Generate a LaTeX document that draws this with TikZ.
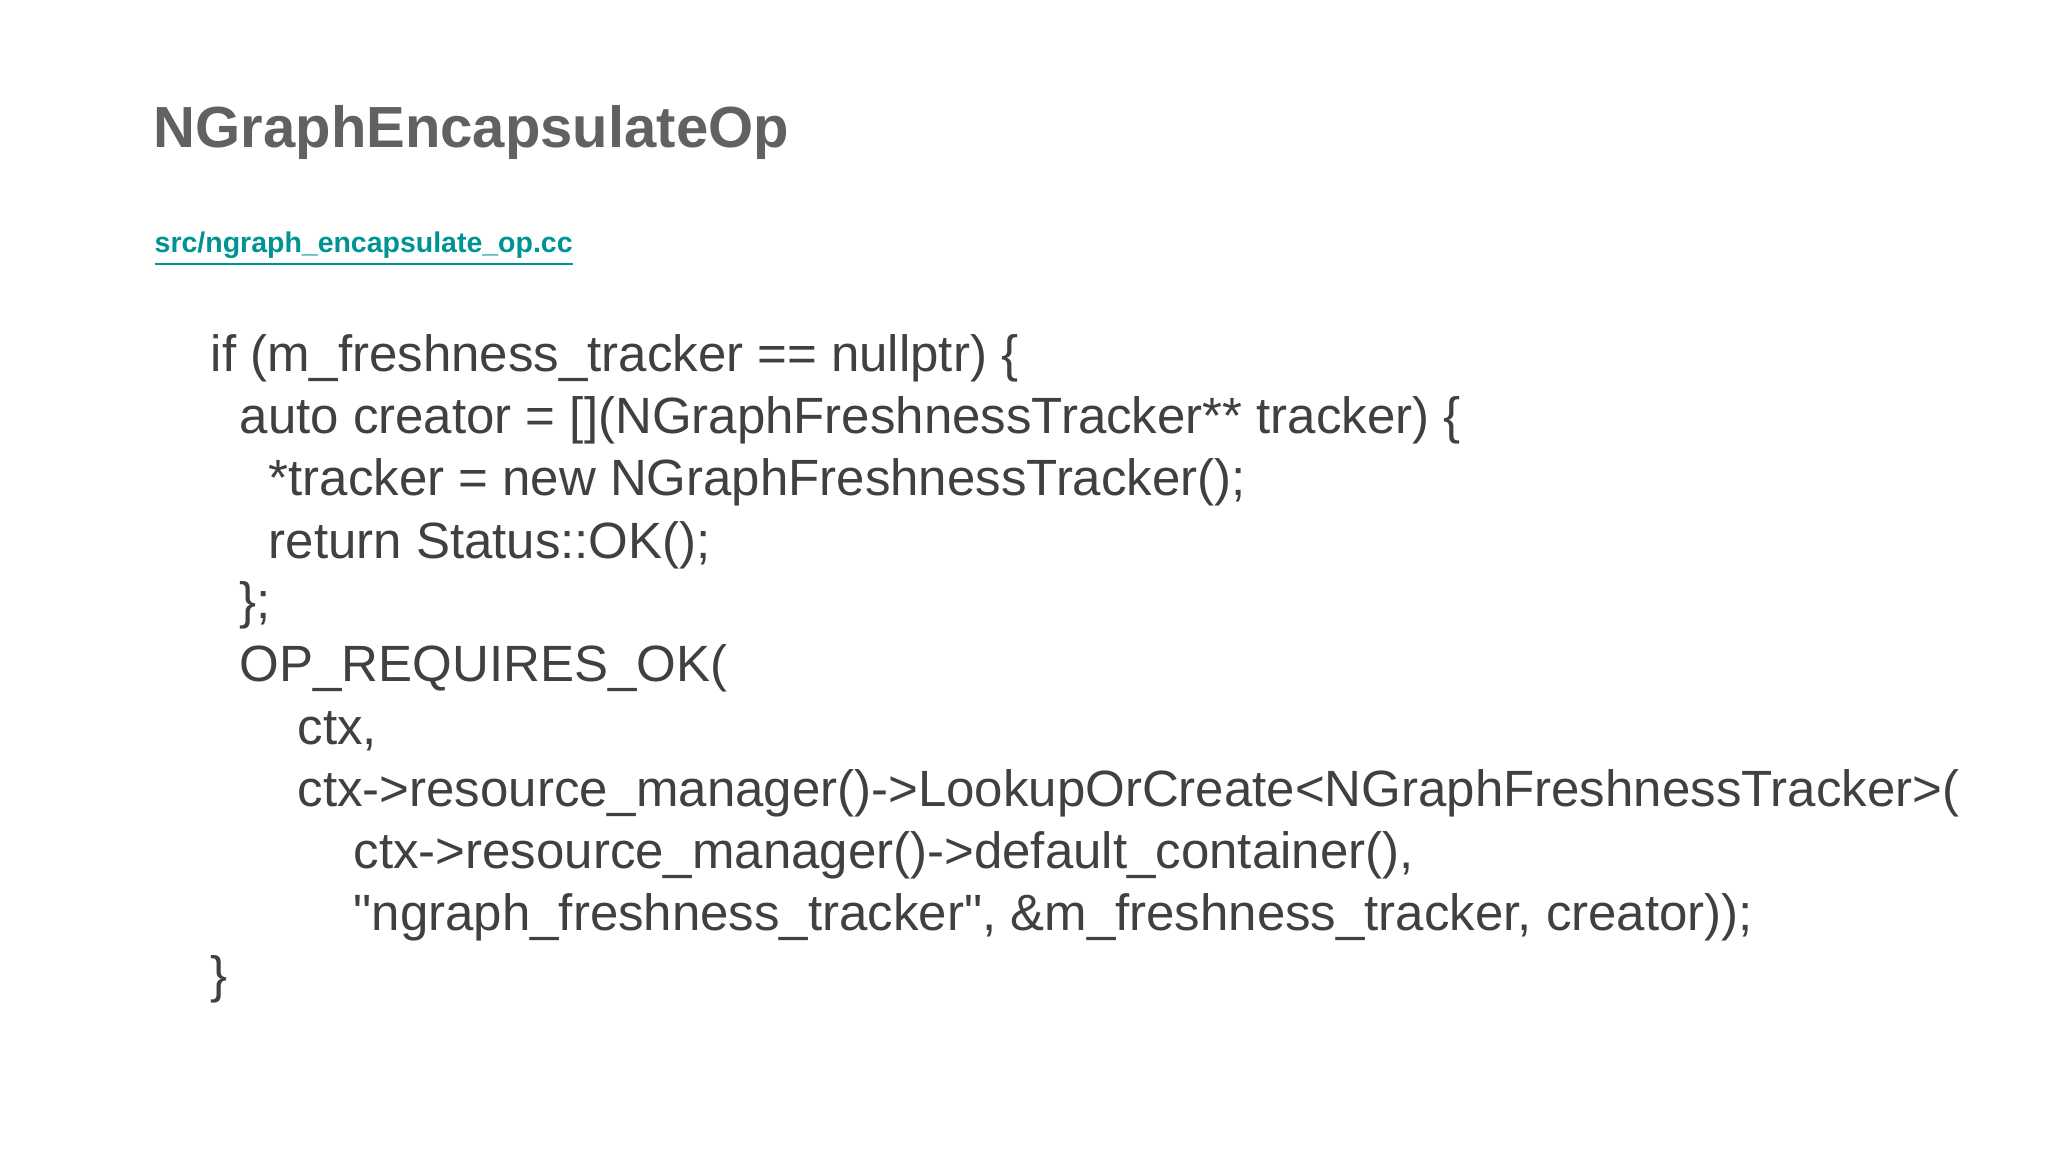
\documentclass[tikz,border=0pt]{standalone}
\usepackage{fontspec}
\setmainfont{Liberation Sans}[Ligatures=TeXOff]
\begin{document}
\begin{tikzpicture}[x=0.01cm,y=-0.01cm,
  code/.style={anchor=base west,inner sep=0pt,text=black!75,font=\fontsize{14.5pt}{16pt}\selectfont}]
\useasboundingbox[fill=white] (0,0) rectangle (2048,1152);
\node[anchor=base west,inner sep=0pt,text=black!62,font=\fontsize{16.5pt}{20pt}\selectfont\bfseries] (title) at (153,148) {NGraphEncapsulateOp};
\node[anchor=base west,inner sep=0pt,text=teal!85!cyan,font=\fontsize{8.1pt}{10pt}\selectfont\bfseries] (link) at (154,253) {\underline{src/ngraph\_encapsulate\_op.cc}};
\node[code] (l1) at (210,372) {if (m\_freshness\_tracker == nullptr) \{};
\node[code] (l2) at (239,434) {auto creator = [](NGraphFreshnessTracker** tracker) \{};
\node[code] (l3) at (268,496) {*tracker = new NGraphFreshnessTracker();};
\node[code] (l4) at (268,558) {return Status::OK();};
\node[code] (l5) at (239,619) {\};};
\node[code] (l6) at (239,682) {OP\_REQUIRES\_OK(};
\node[code] (l7) at (297,744) {ctx,};
\node[code] (l8) at (297,806) {ctx->resource\_manager()->LookupOrCreate<NGraphFreshnessTracker>(};
\node[code] (l9) at (353,868) {ctx->resource\_manager()->default\_container(),};
\node[code] (l10) at (353,930) {"ngraph\_freshness\_tracker", \&m\_freshness\_tracker, creator));};
\node[code] (l11) at (210,992) {\}};
\end{tikzpicture}
\end{document}
